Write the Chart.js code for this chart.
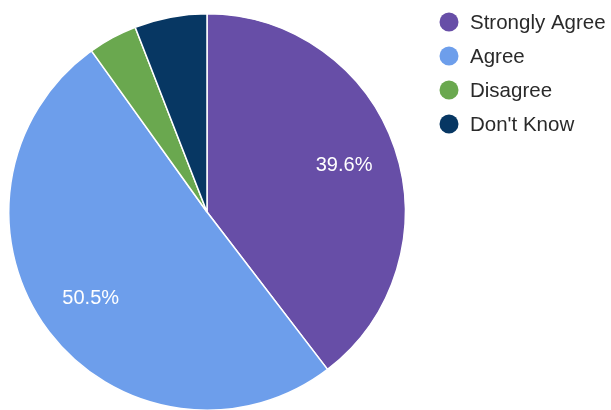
<!DOCTYPE html>
<html>
<head>
<meta charset="utf-8">
<script src="https://cdn.jsdelivr.net/npm/chart.js@4"></script>
<style>
    html, body { margin: 0; padding: 0; background: #fff; overflow: hidden; }
    #wrap { width: 611px; height: 410px; overflow: hidden; }
</style>
</head>
<body>
<div id="wrap"><canvas id="pie" width="611" height="425"></canvas></div>
<script>
const labels = ['Strongly Agree', 'Agree', 'Disagree', "Don't Know"];
const values = [39.6, 50.5, 4.0, 5.9];
const colors = ['#674ea7', '#6d9eeb', '#6aa84f', '#073763'];

// slice percentages + right-hand legend, drawn by hand
const pieExtras = {
    id: 'pieExtras',
    afterDraw(chart) {
        const ctx = chart.ctx;
        const meta = chart.getDatasetMeta(0);
        const total = values.reduce((a, b) => a + b, 0);

        ctx.save();
        ctx.font = '20px "Liberation Sans", Arial, sans-serif';
        ctx.fillStyle = '#ffffff';
        ctx.textAlign = 'center';
        ctx.textBaseline = 'middle';
        meta.data.forEach((arc, i) => {
            const pct = values[i] / total * 100;
            if (pct < 10) return;  // small slices get no label
            const p = arc.getProps(['x', 'y', 'startAngle', 'endAngle', 'outerRadius'], true);
            const mid = (p.startAngle + p.endAngle) / 2;
            const r = p.outerRadius * 0.73;
            ctx.fillText(pct.toFixed(1) + '%', p.x + Math.cos(mid) * r, p.y + Math.sin(mid) * r);
        });

        ctx.textAlign = 'left';
        ctx.font = '20.5px "Liberation Sans", Arial, sans-serif';
        labels.forEach((label, i) => {
            const y = 22 + i * 34;
            ctx.beginPath();
            ctx.arc(449, y, 9.5, 0, Math.PI * 2);
            ctx.fillStyle = colors[i];
            ctx.fill();
            ctx.fillStyle = '#2a2a2a';
            ctx.fillText(label, 470, y + 1);
        });
        ctx.restore();
    }
};

new Chart(document.getElementById('pie').getContext('2d'), {
    type: 'pie',
    data: {
        labels: labels,
        datasets: [{
            data: values,
            backgroundColor: colors,
            borderColor: '#ffffff',
            borderWidth: 1.5
        }]
    },
    options: {
        responsive: false,
        animation: false,
        devicePixelRatio: 1,
        layout: {
            padding: { left: 8, right: 205, top: 13, bottom: 14 }
        },
        plugins: {
            legend: { display: false },
            tooltip: { enabled: false }
        }
    },
    plugins: [pieExtras]
});
</script>
</body>
</html>
